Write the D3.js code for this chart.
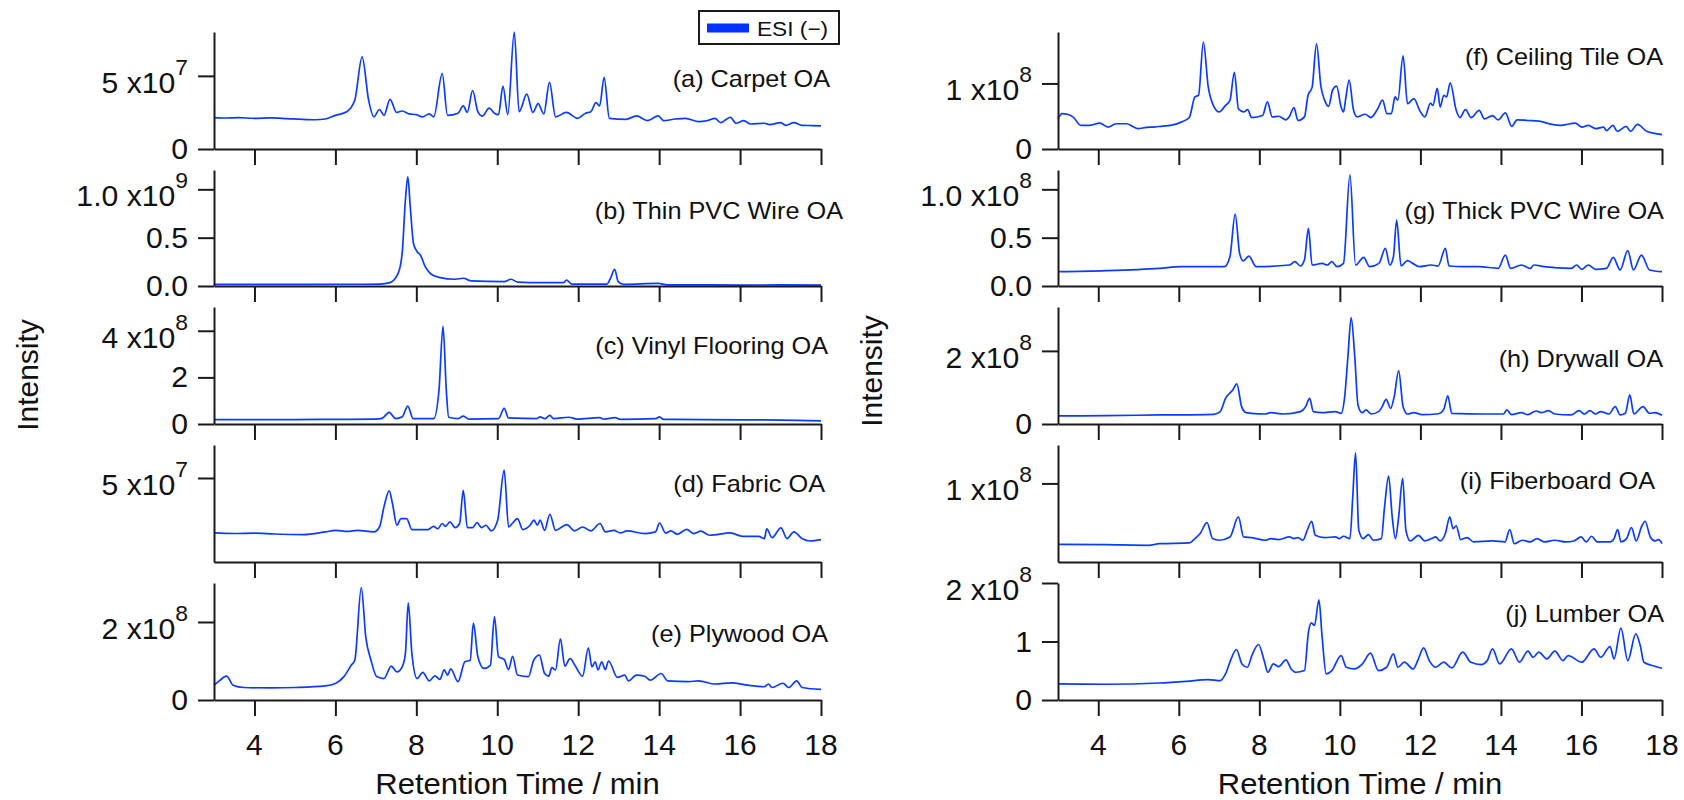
<!DOCTYPE html>
<html><head><meta charset="utf-8">
<script src="https://cdn.jsdelivr.net/npm/d3@7"></script>
<style>
body{margin:0;background:#fff}
svg{display:block}
text{font-family:"Liberation Sans",Arial,Helvetica,sans-serif;fill:#111}
</style>
</head><body>
<svg id="chart" width="1684" height="800"></svg>
<script>
// ---------------- DATA ----------------
const xTicks = [4, 6, 8, 10, 12, 14, 16, 18];
const xDomain = [3, 18];
const panelLabels = ["(a) Carpet OA","(b) Thin PVC Wire OA","(c) Vinyl Flooring OA","(d) Fabric OA","(e) Plywood OA",
  "(f) Ceiling Tile OA","(g) Thick PVC Wire OA","(h) Drywall OA","(i) Fiberboard OA","(j) Lumber OA"];
const yUnits = [1e7, 1e8, 1e8, 1e7, 1e8, 1e7, 1e7, 1e7, 1e7, 1e7];
const yDomains = [[0,8.0],[0,12],[0,5.02],[0.2,6.886],[0,3.0],[0,17.85],[0,12],[0,32],[1,14.4],[0,20]];
const yTickVals = [[0,5],[0,5,10],[0,2,4],[5],[0,2],[0,10],[0,5,10],[0,20],[10],[0,10,20]];
const yTickText = [["0","5 x10|7"],["0.0","0.5","1.0 x10|9"],["0","2","4 x10|8"],["5 x10|7"],["0","2 x10|8"],
  ["0","1 x10|8"],["0.0","0.5","1.0 x10|8"],["0","2 x10|8"],["1 x10|8"],["0","1","2 x10|8"]];
const legendLabel = "ESI (−)";
const xTitle = "Retention Time / min";
const yTitle = "Intensity";

// [time (min), intensity (in panel unit)]
const carpet = [[3.0,2.15],[3.3,2.12],[3.6,2.14],[4.0,2.1],[4.4,2.13],[4.8,2.08],[5.2,2.02],[5.5,2.0],[5.75,2.05],[6.0,2.3],[6.28,2.55],[6.48,3.35],[6.66,6.3],[6.82,3.35],[6.95,2.2],[7.09,2.7],[7.2,2.3],[7.35,3.4],[7.51,2.5],[7.65,2.6],[7.82,2.4],[8.0,2.35],[8.15,2.2],[8.32,2.4],[8.43,2.2],[8.64,5.15],[8.77,2.3],[9.03,2.45],[9.16,2.95],[9.26,2.5],[9.39,4.0],[9.52,2.55],[9.63,2.25],[9.8,2.8],[9.93,2.45],[10.03,2.35],[10.14,4.3],[10.26,2.35],[10.42,8.0],[10.54,2.55],[10.73,3.75],[10.88,2.5],[11.01,3.1],[11.15,2.4],[11.29,4.55],[11.44,2.2],[11.71,2.5],[11.98,2.1],[12.18,2.45],[12.31,2.55],[12.44,3.17],[12.53,2.95],[12.64,4.9],[12.77,2.1],[13.18,2.03],[13.44,2.26],[13.71,1.94],[13.98,2.26],[14.11,1.94],[14.4,2.05],[14.65,2.1],[14.98,1.87],[15.2,1.95],[15.38,2.1],[15.52,1.8],[15.76,2.17],[15.9,1.76],[16.09,1.94],[16.26,1.71],[16.6,1.76],[16.73,1.67],[17.0,1.8],[17.13,1.62],[17.33,1.8],[17.53,1.62],[17.8,1.6],[18.0,1.58]];
const thinPVC = [[3.0,0.17],[4.0,0.16],[5.0,0.17],[6.0,0.18],[6.5,0.18],[7.09,0.2],[7.35,0.35],[7.55,1.3],[7.65,3.4],[7.73,8.9],[7.79,11.3],[7.85,8.2],[7.93,4.4],[8.02,3.55],[8.1,3.2],[8.22,2.0],[8.36,1.24],[8.56,0.9],[8.96,0.7],[9.16,0.8],[9.36,0.52],[10.17,0.45],[10.34,0.7],[10.5,0.41],[11.1,0.35],[11.64,0.35],[11.71,0.62],[11.84,0.2],[12.71,0.2],[12.8,0.8],[12.9,1.72],[12.99,0.45],[13.11,0.17],[13.98,0.27],[14.2,0.12],[15.0,0.11],[16.0,0.1],[17.0,0.11],[18.0,0.1]];
const vinyl = [[3.0,0.19],[4.0,0.19],[5.0,0.19],[6.0,0.2],[7.0,0.21],[7.15,0.24],[7.33,0.5],[7.49,0.23],[7.65,0.31],[7.79,0.77],[7.92,0.23],[8.43,0.23],[8.56,1.46],[8.66,4.2],[8.74,1.46],[8.8,0.29],[9.03,0.23],[9.16,0.34],[9.3,0.21],[10.03,0.23],[10.17,0.67],[10.28,0.26],[10.98,0.23],[11.06,0.31],[11.17,0.23],[11.3,0.37],[11.39,0.23],[11.77,0.29],[11.97,0.21],[12.53,0.27],[12.64,0.21],[12.91,0.27],[13.04,0.2],[13.92,0.23],[14.01,0.31],[14.11,0.2],[15.12,0.19],[16.0,0.18],[17.0,0.17],[18.0,0.13]];
const fabric = [[3.0,1.86],[3.5,1.83],[4.0,1.85],[4.5,1.8],[5.21,1.77],[5.75,1.92],[6.01,2.01],[6.3,1.95],[6.55,2.01],[6.95,1.92],[7.09,2.2],[7.2,3.35],[7.33,4.27],[7.41,3.54],[7.52,2.3],[7.62,2.68],[7.76,2.68],[7.89,2.05],[8.29,2.05],[8.43,2.24],[8.53,2.1],[8.64,2.4],[8.72,2.24],[8.83,2.49],[8.96,2.17],[9.07,2.4],[9.16,4.3],[9.26,2.17],[9.39,2.17],[9.5,2.45],[9.61,2.17],[9.72,2.3],[9.85,1.98],[10.01,2.59],[10.17,5.45],[10.28,2.2],[10.37,2.4],[10.5,2.68],[10.63,2.05],[10.81,2.3],[10.91,2.59],[10.99,2.3],[11.06,2.59],[11.17,2.01],[11.3,2.93],[11.44,2.01],[11.72,2.34],[11.91,1.98],[12.11,2.2],[12.31,1.98],[12.54,2.4],[12.67,1.92],[12.88,2.01],[13.04,1.86],[13.21,1.98],[13.65,1.82],[13.91,1.92],[14.01,2.43],[14.16,1.86],[14.29,1.98],[14.45,1.79],[14.68,2.07],[14.85,1.82],[15.03,1.96],[15.25,1.73],[15.76,1.86],[16.06,1.67],[16.46,1.67],[16.6,1.54],[16.66,2.09],[16.79,1.59],[17.01,2.15],[17.16,1.54],[17.33,1.92],[17.53,1.54],[17.73,1.4],[18.0,1.48]];
const plywood = [[3.0,0.38],[3.13,0.49],[3.31,0.61],[3.47,0.38],[3.74,0.32],[4.41,0.31],[5.0,0.32],[5.75,0.36],[6.01,0.43],[6.21,0.6],[6.39,0.89],[6.48,1.02],[6.64,2.88],[6.75,1.62],[6.88,1.02],[7.02,0.6],[7.2,0.55],[7.38,0.87],[7.52,0.72],[7.65,0.85],[7.73,1.19],[7.8,2.49],[7.89,1.19],[8.02,0.55],[8.16,0.71],[8.32,0.49],[8.46,0.62],[8.58,0.53],[8.69,0.77],[8.77,0.64],[8.85,0.8],[9.03,0.47],[9.2,0.98],[9.33,1.02],[9.41,1.97],[9.52,1.11],[9.67,0.81],[9.83,0.89],[9.93,2.14],[10.03,1.11],[10.17,1.04],[10.28,0.78],[10.38,1.12],[10.5,0.64],[10.77,0.6],[10.9,1.02],[11.04,1.15],[11.17,0.68],[11.27,0.61],[11.35,0.83],[11.44,0.77],[11.56,1.57],[11.67,0.87],[11.8,1.06],[11.94,0.85],[12.11,0.61],[12.25,1.34],[12.34,0.85],[12.42,0.98],[12.49,0.77],[12.58,0.98],[12.67,0.78],[12.75,1.0],[12.97,0.58],[13.15,0.64],[13.24,0.49],[13.44,0.64],[13.64,0.61],[13.78,0.51],[14.05,0.68],[14.21,0.49],[14.72,0.47],[14.98,0.49],[15.38,0.41],[15.79,0.44],[16.19,0.38],[16.6,0.34],[16.7,0.41],[16.79,0.32],[17.06,0.43],[17.2,0.32],[17.4,0.49],[17.53,0.32],[18.0,0.27]];
const ceiling = [[3.0,4.6],[3.1,5.4],[3.23,5.3],[3.37,4.9],[3.57,3.6],[3.77,3.6],[4.04,3.95],[4.24,3.35],[4.44,3.85],[4.71,3.85],[4.85,3.45],[4.98,3.1],[5.2,3.3],[5.39,3.35],[5.6,3.5],[5.79,3.6],[6.06,4.1],[6.26,4.8],[6.4,7.95],[6.49,8.2],[6.61,16.3],[6.73,9.5],[6.87,6.5],[7.0,5.65],[7.16,6.65],[7.27,7.4],[7.38,11.7],[7.48,6.15],[7.61,5.65],[7.71,6.0],[7.81,4.8],[8.08,5.1],[8.2,7.2],[8.32,4.9],[8.48,5.0],[8.66,4.45],[8.75,5.0],[8.86,6.3],[8.96,4.35],[9.12,4.9],[9.21,8.2],[9.31,9.4],[9.42,16.05],[9.53,9.5],[9.62,7.45],[9.72,6.5],[9.82,9.0],[9.92,9.6],[10.03,6.4],[10.09,5.65],[10.14,7.45],[10.23,10.5],[10.34,5.9],[10.43,4.9],[10.63,5.3],[10.77,4.8],[10.94,6.15],[11.06,7.45],[11.17,5.4],[11.28,5.4],[11.37,7.95],[11.44,7.45],[11.57,14.2],[11.68,6.9],[11.84,7.7],[11.98,5.9],[12.11,4.9],[12.25,7.0],[12.31,6.65],[12.42,9.25],[12.49,6.4],[12.58,8.2],[12.65,7.95],[12.74,10.1],[12.89,5.9],[12.98,4.8],[13.12,6.0],[13.26,4.8],[13.46,5.9],[13.59,4.6],[13.79,5.1],[13.93,4.45],[14.11,5.5],[14.27,3.45],[14.4,4.45],[14.67,4.35],[14.94,4.25],[15.27,3.75],[15.47,3.6],[15.85,3.95],[16.01,3.35],[16.17,3.6],[16.35,3.1],[16.55,3.35],[16.62,2.8],[16.78,3.6],[16.89,2.7],[17.11,3.45],[17.22,2.7],[17.39,3.75],[17.62,2.7],[18.0,2.2]];
const thickPVC = [[3.0,1.48],[4.18,1.59],[5.52,1.83],[6.06,2.0],[7.13,2.0],[7.27,3.03],[7.4,7.45],[7.51,3.38],[7.6,2.6],[7.74,3.1],[7.92,2.0],[8.75,2.17],[8.88,2.52],[9.02,2.07],[9.12,2.69],[9.22,5.97],[9.31,2.17],[9.56,2.34],[9.69,2.17],[9.8,2.52],[9.93,2.0],[10.09,2.34],[10.25,11.5],[10.39,2.17],[10.59,2.97],[10.74,2.0],[10.97,2.34],[11.13,3.9],[11.24,2.17],[11.33,3.03],[11.41,6.83],[11.52,2.07],[11.68,2.62],[11.81,2.34],[11.97,2.0],[12.27,2.17],[12.44,2.07],[12.62,3.9],[12.71,2.07],[13.05,2.0],[13.46,2.0],[13.93,1.83],[14.11,3.2],[14.24,1.83],[14.51,2.17],[14.73,1.83],[14.82,2.17],[15.07,2.0],[15.75,1.83],[15.88,2.17],[16.01,1.72],[16.17,2.17],[16.35,1.72],[16.62,1.83],[16.79,2.97],[16.96,1.66],[17.15,3.66],[17.29,1.66],[17.49,3.2],[17.69,1.66],[18.0,1.48]];
const drywall = [[3.0,2.2],[4.2,2.3],[5.52,2.47],[6.87,2.65],[7.03,3.38],[7.16,7.03],[7.34,9.3],[7.44,10.96],[7.56,4.75],[7.67,3.1],[7.8,2.92],[8.14,2.74],[8.28,3.1],[8.61,2.74],[9.02,3.38],[9.15,4.75],[9.25,7.03],[9.34,3.38],[9.56,3.1],[9.89,3.38],[10.03,2.92],[10.12,7.5],[10.2,18.4],[10.28,29.1],[10.37,18.4],[10.45,5.2],[10.55,3.1],[10.65,3.84],[10.78,2.74],[10.96,3.38],[11.05,4.75],[11.15,6.76],[11.26,4.29],[11.35,7.5],[11.46,14.6],[11.57,4.75],[11.68,2.74],[11.84,3.1],[12.04,2.56],[12.45,2.8],[12.58,4.0],[12.68,7.67],[12.78,2.92],[13.59,2.74],[14.06,2.74],[14.15,3.84],[14.26,2.56],[14.51,3.1],[14.67,2.56],[14.87,3.56],[15.0,3.1],[15.18,3.65],[15.34,2.74],[15.74,2.47],[15.94,3.65],[16.07,2.74],[16.21,3.65],[16.35,2.74],[16.48,3.38],[16.68,2.74],[16.84,4.75],[16.96,2.47],[17.09,2.92],[17.2,7.95],[17.3,2.74],[17.53,4.75],[17.69,2.92],[17.83,3.1],[18.0,2.37]];
const fiberboard = [[3.0,3.03],[4.18,2.99],[5.25,2.91],[5.52,3.1],[6.26,3.18],[6.4,3.68],[6.53,4.26],[6.7,5.52],[6.84,3.68],[7.0,3.49],[7.27,3.87],[7.48,6.17],[7.61,3.87],[7.81,3.8],[8.15,3.49],[8.28,3.68],[8.48,3.57],[8.75,3.87],[8.86,3.68],[8.96,3.8],[9.08,3.49],[9.19,4.64],[9.3,5.67],[9.39,4.06],[9.62,3.8],[9.89,3.87],[9.99,3.68],[10.09,3.95],[10.25,3.68],[10.32,8.47],[10.39,13.5],[10.47,4.64],[10.58,3.68],[10.71,4.14],[10.83,3.49],[11.03,3.68],[11.11,7.32],[11.21,10.84],[11.3,6.17],[11.38,3.68],[11.46,6.17],[11.56,10.57],[11.64,4.64],[11.75,3.41],[11.95,4.06],[12.11,3.41],[12.27,3.68],[12.38,3.87],[12.49,3.41],[12.62,4.26],[12.73,6.17],[12.81,4.83],[12.89,5.14],[13.0,3.57],[13.16,3.8],[13.32,3.3],[13.79,3.41],[14.1,3.3],[14.22,4.72],[14.33,3.1],[14.53,3.49],[14.73,3.3],[14.9,3.68],[15.07,3.3],[15.34,3.49],[15.61,3.3],[15.81,3.41],[15.99,3.87],[16.12,3.3],[16.25,3.95],[16.39,3.3],[16.71,3.3],[16.81,3.68],[16.9,4.72],[16.98,3.3],[17.12,3.68],[17.24,4.95],[17.36,3.41],[17.49,5.02],[17.58,5.67],[17.71,3.87],[17.83,3.41],[17.92,3.57],[18.0,3.1]];
const lumber = [[3.0,2.74],[4.18,2.69],[5.52,2.91],[6.19,3.2],[6.73,3.49],[7.03,3.31],[7.16,4.46],[7.3,7.03],[7.43,8.63],[7.57,6.17],[7.7,5.6],[7.83,7.89],[7.98,9.49],[8.12,6.74],[8.21,4.74],[8.35,6.17],[8.48,5.71],[8.66,6.86],[8.79,5.31],[8.91,4.74],[9.12,5.03],[9.22,11.6],[9.29,13.2],[9.37,12.74],[9.48,17.1],[9.56,10.7],[9.66,4.46],[9.8,5.03],[10.03,7.6],[10.16,5.6],[10.36,5.31],[10.56,6.17],[10.76,8.0],[10.96,5.03],[11.16,5.6],[11.33,7.89],[11.44,5.6],[11.6,6.46],[11.82,5.31],[11.95,7.03],[12.08,8.91],[12.22,6.74],[12.38,5.6],[12.58,6.46],[12.78,5.49],[13.05,8.17],[13.25,6.46],[13.52,6.06],[13.66,6.74],[13.79,8.74],[13.97,6.17],[14.26,8.74],[14.46,6.46],[14.67,8.34],[14.8,7.31],[14.94,8.17],[15.14,7.03],[15.34,8.34],[15.54,6.74],[15.67,7.6],[16.01,6.46],[16.31,8.74],[16.48,7.31],[16.71,9.14],[16.81,7.03],[16.98,12.3],[17.15,6.74],[17.35,11.3],[17.46,9.31],[17.55,6.46],[17.76,5.89],[18.0,5.43]];
const seriesList = [carpet, thinPVC, vinyl, fabric, plywood, ceiling, thickPVC, drywall, fiberboard, lumber];

// ---------------- LAYOUT ----------------
const W = 1684, H = 800;
const colX = [[214, 821], [1058, 1662]];
const rowY = [[32,149],[170,286],[307,424],[445,562],[583,700]];
const labelPos = [[830,87],[843,219],[828,354],[825,492],[828,642],[1663,65],[1664,219],[1663,367],[1655,489],[1664,622]];
const lineColor = "#0a3cff";
const axisColor = "#1a1a1a";

const svg = d3.select("#chart");
svg.append("rect").attr("width", W).attr("height", H).attr("fill", "#fff");

function stretchedText(parent, x, y, sx, size, anchor, str) {
  const g = parent.append("g").attr("transform", sx === 1 ? `translate(${x},${y})` : `translate(${x},${y}) scale(${sx},1)`);
  const t = g.append("text").attr("x", 0).attr("y", 0).attr("font-size", size).attr("text-anchor", anchor);
  const parts = str.split("|");
  t.append("tspan").text(parts[0]);
  if (parts.length > 1) {
    t.append("tspan").attr("dy", -18).attr("font-size", 22).text(parts[1]);
  }
  return t;
}

seriesList.forEach((series, i) => {
  const col = i < 5 ? 0 : 1;
  const row = i % 5;
  const [x0, x1] = colX[col];
  const [yTop, yBot] = rowY[row];
  const unit = yUnits[i];
  const x = d3.scaleLinear().domain(xDomain).range([x0, x1]);
  const y = d3.scaleLinear().domain(yDomains[i].map(v => v * unit)).range([yBot, yTop]);
  const g = svg.append("g");

  // trace
  const line = d3.line().x(d => x(d[0])).y(d => y(d[1] * unit)).curve(d3.curveMonotoneX);
  g.append("path").datum(series).attr("d", line)
    .attr("fill", "none").attr("stroke", lineColor).attr("stroke-width", 1.7).attr("stroke-linejoin", "round");

  // x axis
  const xAxis = d3.axisBottom(x).tickValues(xTicks).tickSize(16).tickSizeOuter(0).tickFormat("");
  const xa = g.append("g").attr("transform", `translate(0,${yBot})`).call(xAxis);
  // y axis
  const yAxis = d3.axisLeft(y).tickValues(yTickVals[i].map(v => v * unit)).tickSize(16).tickSizeOuter(0).tickFormat("");
  const ya = g.append("g").attr("transform", `translate(${x0},0)`).call(yAxis);
  [xa, ya].forEach(a => {
    a.select(".domain").attr("stroke", axisColor).attr("stroke-width", 2);
    a.selectAll(".tick line").attr("stroke", axisColor).attr("stroke-width", 2);
  });

  // y tick labels
  yTickVals[i].forEach((v, k) => {
    const txt = yTickText[i][k];
    const ty = y(v * unit);
    const hasExp = txt.indexOf("|") >= 0;
    stretchedText(g, x0 - 26, ty + (hasExp ? 17 : 10), 1.04, 29, "end", txt);
  });

  // x tick labels on bottom row
  if (row === 4) {
    xTicks.forEach(t => stretchedText(g, x(t), 755, 1, 30, "middle", String(t)));
    stretchedText(g, (x0 + x1) / 2, 794, 1.07, 29, "middle", xTitle);
  }

  // panel label
  stretchedText(g, labelPos[i][0], labelPos[i][1], 1.1, 23, "end", panelLabels[i]);
});

// y titles
[[37.5, 375], [882, 371]].forEach(([tx, ty]) => {
  svg.append("text").attr("transform", `translate(${tx},${ty}) rotate(-90)`)
    .attr("text-anchor", "middle").attr("font-size", 30).text(yTitle);
});

// legend
const lg = svg.append("g");
lg.append("rect").attr("x", 699).attr("y", 11).attr("width", 140).attr("height", 33)
  .attr("fill", "#fff").attr("stroke", axisColor).attr("stroke-width", 2);
lg.append("line").attr("x1", 707).attr("x2", 749).attr("y1", 28).attr("y2", 28)
  .attr("stroke", "#0033ff").attr("stroke-width", 9);
stretchedText(lg, 757, 35.5, 1.08, 21, "start", legendLabel);
</script>
</body></html>
